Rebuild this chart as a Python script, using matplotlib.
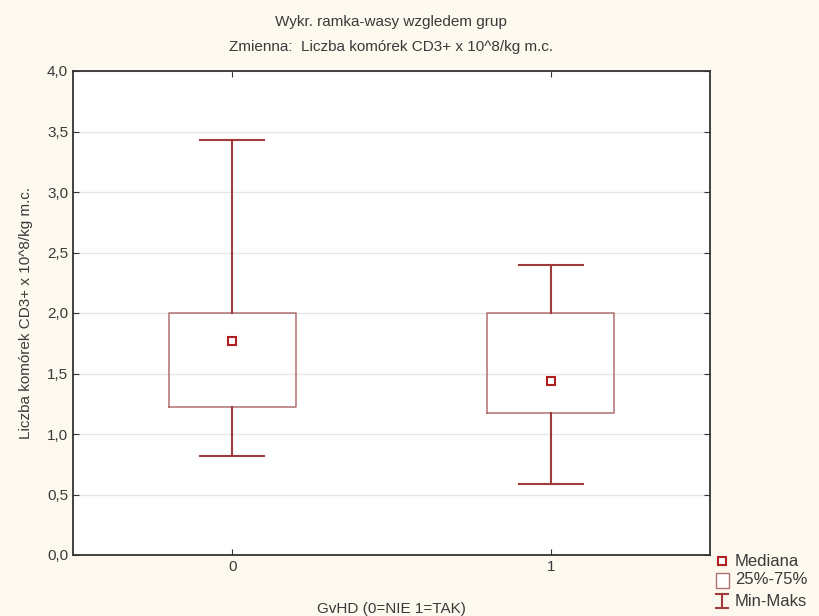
import matplotlib
matplotlib.use("Agg")
import matplotlib.pyplot as plt
from matplotlib.patches import Rectangle
from matplotlib.lines import Line2D

plt.rcParams['font.family'] = ['Liberation Sans', 'DejaVu Sans']

categories = ["0", "1"]
mins = [0.82, 0.59]
q1s = [1.22, 1.17]
medians = [1.77, 1.44]
q3s = [2.00, 2.00]
maxs = [3.43, 2.40]
yticks = [0.0, 0.5, 1.0, 1.5, 2.0, 2.5, 3.0, 3.5, 4.0]

bg = '#FDF9EF'
box_col = '#B07070'
whisk_col = '#A03C3C'
med_col = '#B02020'
txt = '#3A3A3A'

fig = plt.figure(figsize=(8.19, 6.16), dpi=100, facecolor=bg)
ax = fig.add_axes([73/819, 1-555/616, (710-73)/819, (555-71)/616])
ax.set_facecolor('white')

stats = []
for i in range(len(categories)):
    stats.append(dict(med=medians[i], q1=q1s[i], q3=q3s[i],
                      whislo=mins[i], whishi=maxs[i], fliers=[], label=categories[i]))
pos = list(range(len(categories)))
ax.bxp(stats, positions=pos, widths=0.4, showfliers=False,
       boxprops=dict(color=box_col, linewidth=1.1),
       whiskerprops=dict(color=whisk_col, linewidth=1.5),
       capprops=dict(color=whisk_col, linewidth=1.5),
       medianprops=dict(linewidth=0),
       capwidths=0.2, zorder=3)
ax.plot(pos, medians, linestyle='none', marker='s', markersize=6,
        markerfacecolor='white', markeredgecolor=med_col, markeredgewidth=1.5, zorder=4)

ax.set_xlim(-0.5, 1.5)
ax.set_ylim(0, 4)
ax.set_yticks(yticks)
ax.set_yticklabels([f"{v:.1f}".replace('.', ',') for v in yticks], fontsize=11, color=txt)
ax.set_xticks(pos)
ax.set_xticklabels(categories, fontsize=11, color=txt)
ax.yaxis.grid(True, color='#E6E6E6', linewidth=1)
ax.set_axisbelow(True)
ax.tick_params(direction='in', top=True, right=True, length=4, color='#333333')
for s in ax.spines.values():
    s.set_color('#333333')
    s.set_linewidth(1.3)

ax.set_xlabel("GvHD (0=NIE 1=TAK)", fontsize=11, color=txt, labelpad=20)
ax.set_ylabel("Liczba komórek CD3+ x 10^8/kg m.c.", fontsize=11, color=txt, labelpad=10)
fig.text(391/819, 1-22/616, "Wykr. ramka-wasy wzgledem grup", ha='center', va='center',
         fontsize=11, color=txt)
fig.text(391/819, 1-47/616, "Zmienna:  Liczba komórek CD3+ x 10^8/kg m.c.", ha='center', va='center',
         fontsize=11, color=txt)

# manual legend
W, H = 819, 616
def fx(x): return x / W
def fy(y): return 1 - y / H
fig.add_artist(Line2D([fx(722)], [fy(561)], marker='s', markersize=6, markerfacecolor='white',
                      markeredgecolor=med_col, markeredgewidth=1.5, linestyle='none'))
fig.text(fx(735), fy(561), "Mediana", va='center', fontsize=12, color=txt)
fig.add_artist(Rectangle((fx(716), fy(588)), 13/W, 15/H, facecolor='white',
                         edgecolor=box_col, linewidth=1.0, transform=fig.transFigure))
fig.text(fx(735), fy(580), "25%-75%", va='center', fontsize=12, color=txt)
fig.add_artist(Line2D([fx(722), fx(722)], [fy(594), fy(608)], color=whisk_col, linewidth=1.5))
fig.add_artist(Line2D([fx(716), fx(728)], [fy(594), fy(594)], color=whisk_col, linewidth=1.5))
fig.add_artist(Line2D([fx(716), fx(728)], [fy(608), fy(608)], color=whisk_col, linewidth=1.5))
fig.text(fx(735), fy(601), "Min-Maks", va='center', fontsize=12, color=txt)

fig.savefig("out.png", dpi=100, facecolor=bg)
